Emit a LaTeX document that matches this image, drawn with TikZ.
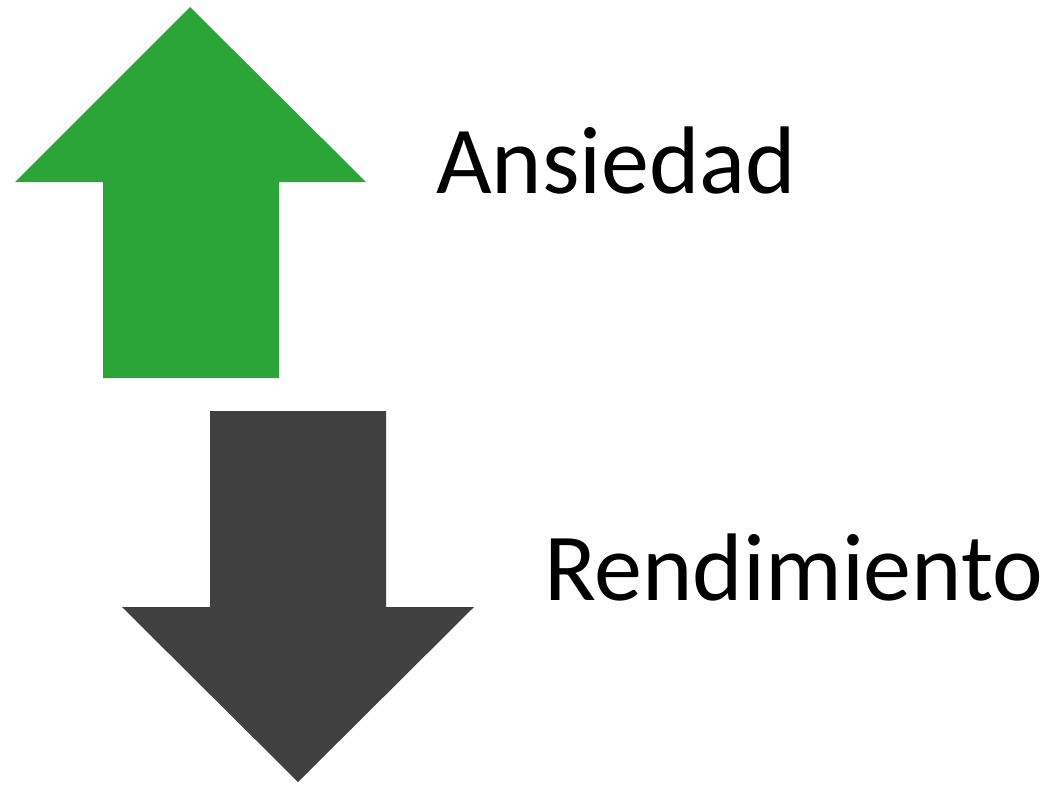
\documentclass[tikz,border=0pt]{standalone}
\usepackage{fontspec}
\setmainfont{Carlito}
\definecolor{upgreen}{RGB}{44,165,56}
\definecolor{downgray}{RGB}{64,64,64}
\begin{document}
\begin{tikzpicture}[x=1pt,y=-1pt,
  lbl/.style={anchor=base west,inner sep=0pt,font=\fontsize{96}{106}\selectfont}]
\useasboundingbox (0,0) rectangle (1048,784);
\fill[upgreen] (190,7) -- (366,182) -- (279,182) -- (279,378) -- (103,378) -- (103,182) -- (15,182) -- cycle;
\fill[downgray] (298,782) -- (474,607) -- (386,607) -- (386,411) -- (210,411) -- (210,607) -- (122,607) -- cycle;
\node[lbl] (a) at (436,193) {Ansiedad};
\node[lbl] (r) at (544,600) {Rendimiento};
\end{tikzpicture}
\end{document}
